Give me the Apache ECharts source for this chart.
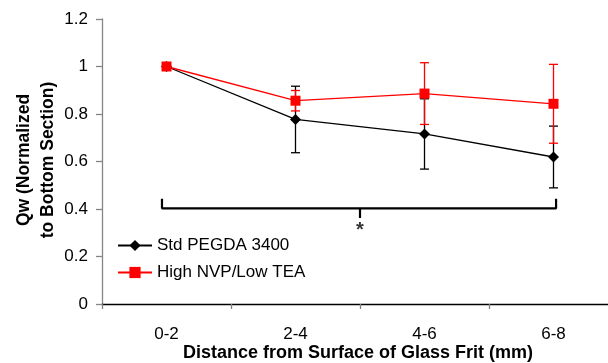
<!DOCTYPE html>
<html><head><meta charset="utf-8">
<script src="https://cdn.jsdelivr.net/npm/echarts@6/dist/echarts.min.js"></script>
<style>html,body{margin:0;padding:0;background:#fff}#c{width:608px;height:363px}</style>
</head><body><div id="c"></div><script>
const categories = ['0-2', '2-4', '4-6', '6-8'];
const stdName = 'Std PEGDA 3400';
const stdValues = [1.0, 0.777, 0.716, 0.619];
const stdErrors = [0, 0.14, 0.148, 0.13];
const nvpName = 'High NVP/Low TEA';
const nvpValues = [1.0, 0.856, 0.886, 0.843];
const nvpErrors = [0, 0.043, 0.13, 0.166];
const yMin = 0, yMax = 1.2, yStep = 0.2;
const xTitle = 'Distance from Surface of Glass Frit (mm)';
const yTitle = 'Qw (Normalized\nto Bottom Section)';
// significance bracket (x in category-index units on a 0..4 scale)
const bracketStartX = 0.465, bracketEndX = 3.52, bracketMidX = 2.0;
const bracketLevel = 0.403, bracketArmTop = 0.443, bracketMidBottom = 0.362;
const starLevel = 0.311;
const starText = '*';

const FONT = 'Liberation Sans, Arial, sans-serif';

function errData(vals, errs) {
  return vals.map((v, i) => [i, v - errs[i], v + errs[i]]);
}
function errSeries(vals, errs, color) {
  return {
    type: 'custom', xAxisIndex: 0, yAxisIndex: 0, silent: true,
    data: errData(vals, errs).filter((d, i) => errs[i] > 0),
    encode: { x: 0, y: [1, 2] },
    renderItem: function (params, api) {
      const x = api.value(0);
      const lo = api.coord([x, api.value(1)]);
      const hi = api.coord([x, api.value(2)]);
      const w = 4.5;
      const st = { stroke: color, lineWidth: 1.3 };
      return { type: 'group', children: [
        { type: 'line', shape: { x1: lo[0], y1: lo[1], x2: hi[0], y2: hi[1] }, style: st },
        { type: 'line', shape: { x1: lo[0] - w, y1: lo[1], x2: lo[0] + w, y2: lo[1] }, style: st },
        { type: 'line', shape: { x1: hi[0] - w, y1: hi[1], x2: hi[0] + w, y2: hi[1] }, style: st }
      ]};
    }
  };
}

const chart = echarts.init(document.getElementById('c'), null, { renderer: 'canvas' });
chart.setOption({
  animation: false,
  backgroundColor: '#fff',
  textStyle: { fontFamily: FONT },
  grid: { left: 102, top: 19, width: 516, height: 285, containLabel: false, outerBoundsMode: 'none' },
  legend: {
    data: [stdName, nvpName], orient: 'vertical', left: 112, top: 232, padding: 5,
    itemWidth: 34, itemHeight: 14, itemGap: 10,
    textStyle: { fontSize: 17, lineHeight: 17, color: '#000', fontFamily: FONT }
  },
  graphic: [{
    type: 'text', x: 36, y: 160, rotation: Math.PI / 2, silent: true,
    style: {
      text: yTitle, font: 'bold 17.5px ' + FONT, lineHeight: 23.5, fill: '#000',
      align: 'center', verticalAlign: 'middle'
    }
  }, {
    type: 'text', x: 358, y: 353, silent: true,
    style: {
      text: xTitle, font: 'bold 18px ' + FONT, fill: '#000',
      align: 'center', verticalAlign: 'middle'
    }
  }],
  xAxis: [{
    type: 'category', data: categories, boundaryGap: true,
    axisLine: { lineStyle: { color: '#000', width: 1.3 } },
    axisTick: { show: true, length: 5, lineStyle: { color: '#808080', width: 1.3 } },
    axisLabel: { fontSize: 17, color: '#000', margin: 22, fontFamily: FONT },
    splitLine: { show: false }
  }, {
    type: 'value', min: 0, max: 4, show: false, position: 'bottom'
  }],
  yAxis: {
    type: 'value', min: yMin, max: yMax, interval: yStep,
    axisLine: { show: true, lineStyle: { color: '#868686', width: 1.3 } },
    axisTick: { show: true, length: 6, lineStyle: { color: '#868686', width: 1.3 } },
    axisLabel: { fontSize: 17, color: '#000', margin: 14, fontFamily: FONT },
    splitLine: { show: false }
  },
  series: [
    errSeries(stdValues, stdErrors, '#000'),
    {
      name: stdName, type: 'line', data: stdValues, xAxisIndex: 0,
      symbol: 'diamond', symbolSize: 11, showAllSymbol: true,
      lineStyle: { color: '#000', width: 1.3 }, itemStyle: { color: '#000' }
    },
    errSeries(nvpValues, nvpErrors, '#ff0000'),
    {
      name: nvpName, type: 'line', data: nvpValues, xAxisIndex: 0,
      symbol: 'rect', symbolSize: 10, showAllSymbol: true,
      lineStyle: { color: '#ff0000', width: 1.3 }, itemStyle: { color: '#ff0000' }
    },
    {
      type: 'line', xAxisIndex: 1, silent: true, symbol: 'none',
      lineStyle: { color: '#000', width: 2.2 },
      data: [[bracketStartX, bracketArmTop], [bracketStartX, bracketLevel], [bracketEndX, bracketLevel], [bracketEndX, bracketArmTop]]
    },
    {
      type: 'line', xAxisIndex: 1, silent: true, symbol: 'none',
      lineStyle: { color: '#000', width: 2.2 },
      data: [[bracketMidX, bracketLevel], [bracketMidX, bracketMidBottom]]
    },
    {
      type: 'scatter', xAxisIndex: 1, silent: true, symbolSize: 0,
      data: [[bracketMidX, starLevel]],
      label: { show: true, position: 'inside', formatter: starText, fontSize: 20, fontWeight: 'bold', color: '#000', fontFamily: FONT }
    }
  ]
});
</script></body></html>
